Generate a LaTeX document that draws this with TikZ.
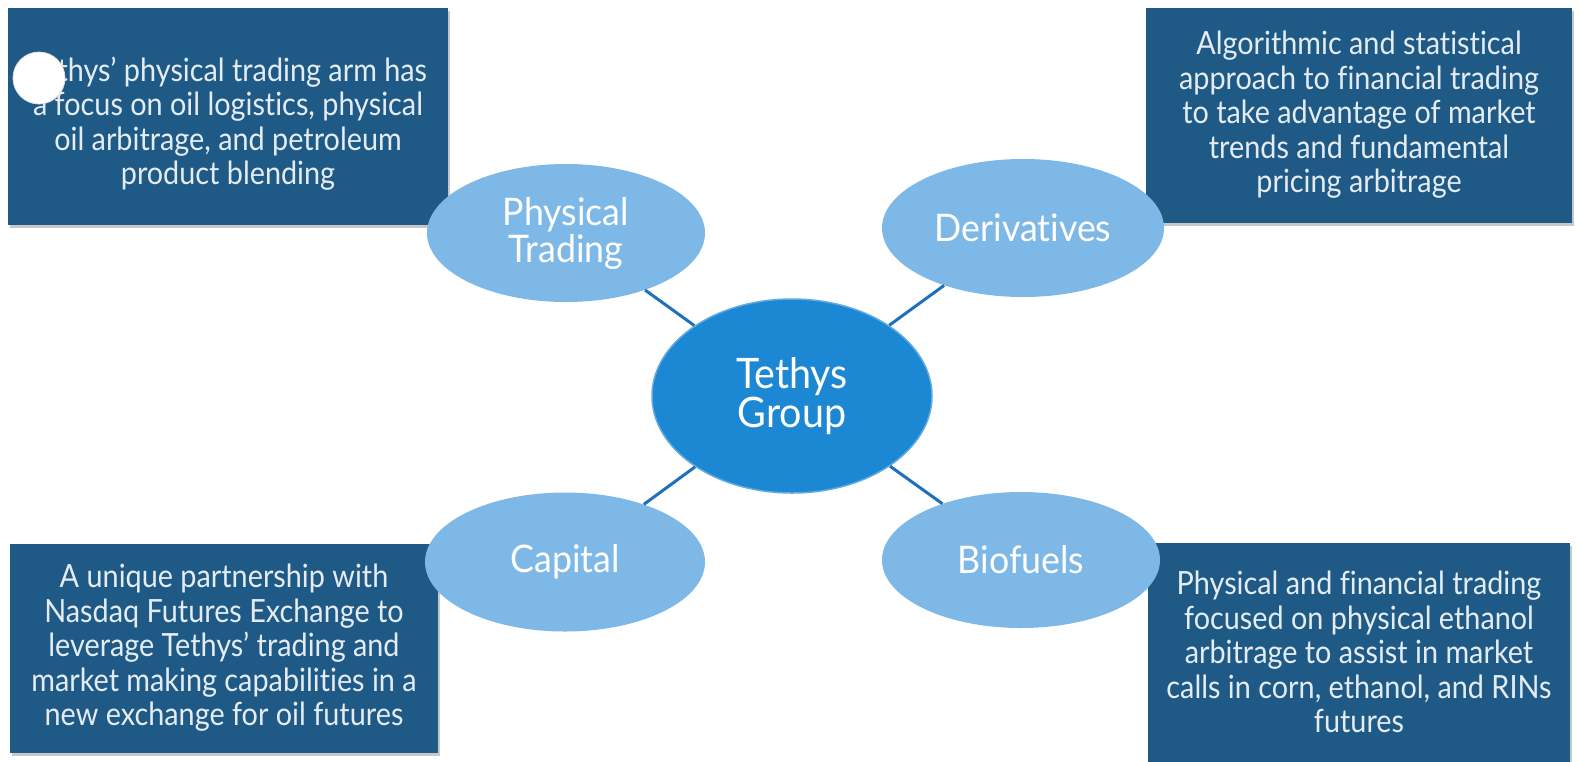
\documentclass[tikz,border=0pt]{standalone}
\usepackage{fontspec}
\setmainfont{Lato}[Ligatures=NoCommon]
\newfontfamily\boxfont{Lato}[Ligatures=NoCommon, FakeStretch=0.9]
\newfontfamily\ovalfont{Lato}[Ligatures=NoCommon, FakeStretch=0.94]
\usetikzlibrary{shapes.geometric,shadows}

\definecolor{boxblue}{HTML}{1F5A87}
\definecolor{boxtext}{HTML}{E4ECF2}
\definecolor{branchblue}{HTML}{7DB8E7}
\definecolor{hubblue}{HTML}{1C87D3}
\definecolor{linkblue}{HTML}{1F70BA}

\begin{document}
\begin{tikzpicture}[x=1pt,y=-1pt,
  infobox/.style={rectangle, fill=boxblue, text=boxtext, align=center,
    inner sep=0pt, font=\boxfont\fontsize{32}{34.5}\selectfont,
    drop shadow={shadow xshift=2pt, shadow yshift=-3pt, opacity=0.3, fill=black!70}},
  branch/.style={ellipse, fill=branchblue, text=white, align=center,
    inner sep=0pt, font=\ovalfont\fontsize{38}{37}\selectfont},
  hub/.style={ellipse, fill=hubblue, draw=hubblue!70!white, line width=1.5pt,
    text=white, align=center, inner sep=0pt, font=\ovalfont\fontsize{42}{39}\selectfont},
  link/.style={draw=linkblue, line width=3pt}]

\useasboundingbox (0,0) rectangle (1579,761);
\fill[white] (0,0) rectangle (1579,761);

% description boxes
\node (dpt) [infobox, minimum width=440pt, minimum height=217pt] at (228,116)
  {\rule{0pt}{40pt}Tethys’ physical trading arm has\\a focus on oil logistics, physical\\oil arbitrage, and petroleum\\product blending};
\node (ddv) [infobox, minimum width=426pt, minimum height=215pt] at (1359,115)
  {Algorithmic and statistical\\approach to financial trading\\to take advantage of market\\trends and fundamental\\pricing arbitrage};
\node (dcp) [infobox, minimum width=428pt, minimum height=209pt] at (224,648)
  {A unique partnership with\\Nasdaq Futures Exchange to\\leverage Tethys’ trading and\\market making capabilities in a\\new exchange for oil futures};
\node (dbf) [infobox, minimum width=422pt, minimum height=219pt] at (1359,652)
  {Physical and financial trading\\focused on physical ethanol\\arbitrage to assist in market\\calls in corn, ethanol, and RINs\\futures};

% white marker over the first box
\node (spot) [circle, fill=white, draw=black!12, line width=0.8pt, minimum size=52pt, inner sep=0pt] at (39,78) {};

% branch ellipses
\node (pt) [branch, minimum width=278pt, minimum height=138pt] at (566,233) {Physical\\Trading};
\node (dv) [branch, minimum width=282pt, minimum height=138pt] at (1023,228) {Derivatives};
\node (cp) [branch, minimum width=280pt, minimum height=139pt] at (565,562) {Capital};
\node (bf) [branch, minimum width=278pt, minimum height=136pt] at (1021,560) {Biofuels};

% hub
\node (tg) [hub, minimum width=280pt, minimum height=194pt] at (792,396) {Tethys\\Group};

% connectors
\draw[link] (tg) -- (pt);
\draw[link] (tg) -- (dv);
\draw[link] (tg) -- (cp);
\draw[link] (tg) -- (bf);
\end{tikzpicture}
\end{document}
